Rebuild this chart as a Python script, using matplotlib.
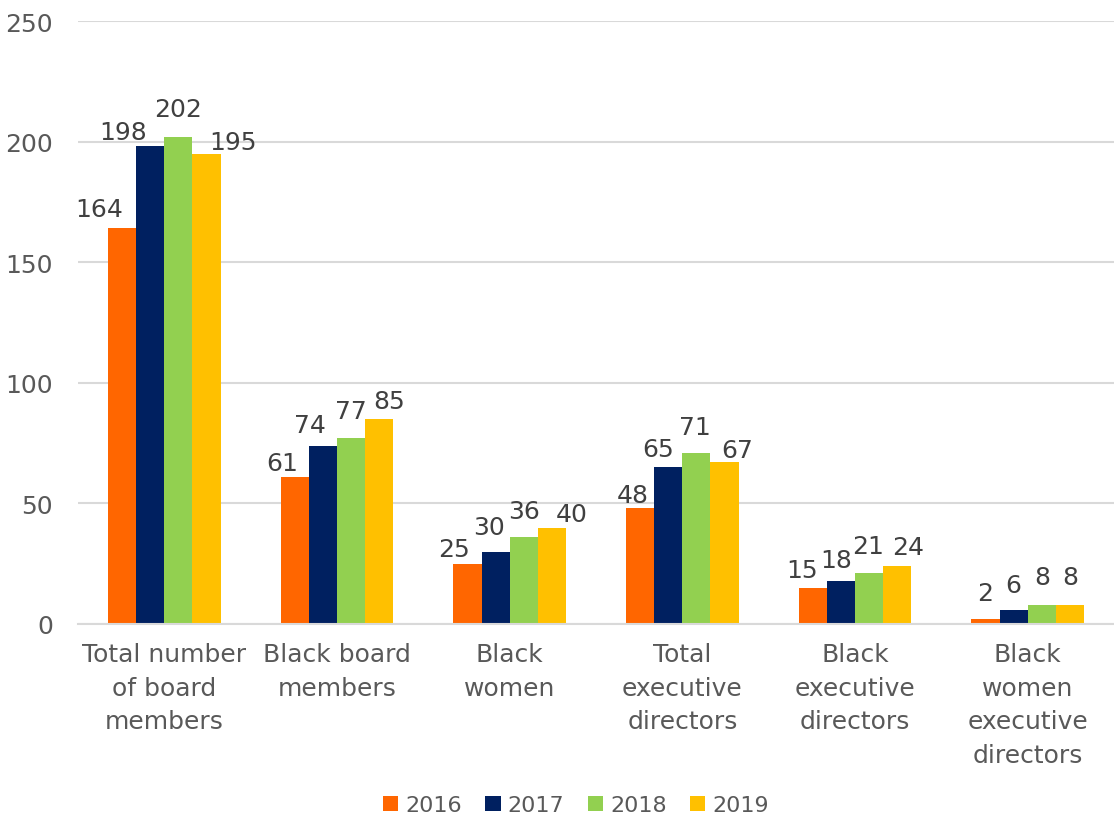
import numpy as np
import matplotlib.pyplot as plt

plt.rcParams['font.family'] = ['DejaVu Sans']
plt.rcParams['font.size'] = 18
text_col = '#595959'

categories = ["Total number\nof board\nmembers", "Black board\nmembers", "Black\nwomen",
              "Total\nexecutive\ndirectors", "Black\nexecutive\ndirectors",
              "Black\nwomen\nexecutive\ndirectors"]
years = ["2016", "2017", "2018", "2019"]
v2016 = [164, 61, 25, 48, 15, 2]
v2017 = [198, 74, 30, 65, 18, 6]
v2018 = [202, 77, 36, 71, 21, 8]
v2019 = [195, 85, 40, 67, 24, 8]
colors = ['#FF6600', '#002060', '#92D050', '#FFC000']

# hand-placed data label offsets (pixels): per year, per category
label_dx = [[-23, -13, -13, -7, -11, 0],
            [-27, -13, -7, -10, -5, 0],
            [0, 0, 0, -2, -1, 1],
            [26, 10, 20, 13, 11, 0]]
label_dy = [[19, 14, 15, 13, 18, 26],
            [14, 21, 25, 18, 21, 25],
            [28, 27, 26, 26, 27, 28],
            [12, 18, 14, 12, 19, 28]]

fig = plt.figure(figsize=(11.14, 8.2), dpi=100)
ax = fig.add_axes([78/1114, 195/820, 1036/1114, 603/820])

x = np.arange(len(categories))
w = 0.163
series = [v2016, v2017, v2018, v2019]
for i, vals in enumerate(series):
    xs = x + (i - 1.5) * w
    ax.bar(xs, vals, width=w, color=colors[i], label=years[i], zorder=3, linewidth=0)
    for j, v in enumerate(vals):
        ax.annotate(str(v), (xs[j], v), xytext=(label_dx[i][j], label_dy[i][j]),
                    textcoords='offset pixels', ha='center', va='center',
                    color='#404040', fontsize=18)

ax.set_xlim(-0.5, len(categories) - 0.5)
ax.set_ylim(0, 250)
ax.set_yticks(np.arange(0, 251, 50))
ax.set_xticks(x)
ax.set_xticklabels(categories, linespacing=1.5)
ax.tick_params(axis='both', length=0, colors=text_col, labelsize=18)
ax.tick_params(axis='y', pad=18)
ax.tick_params(axis='x', pad=13)
ax.grid(axis='y', color='#D9D9D9', linewidth=1.5, zorder=0)
for s in ['top', 'right', 'left']:
    ax.spines[s].set_visible(False)
ax.spines['bottom'].set_color('#D9D9D9')
ax.spines['bottom'].set_linewidth(1.5)
ax.spines['bottom'].set_zorder(4)

fig.legend(loc='center', bbox_to_anchor=(576/1114, 14/820), ncol=4, frameon=False,
           handlelength=0.68, handleheight=0.68, handletextpad=0.32, columnspacing=1.05,
           labelcolor=text_col, fontsize=16)

fig.savefig('out.png', dpi=100)
